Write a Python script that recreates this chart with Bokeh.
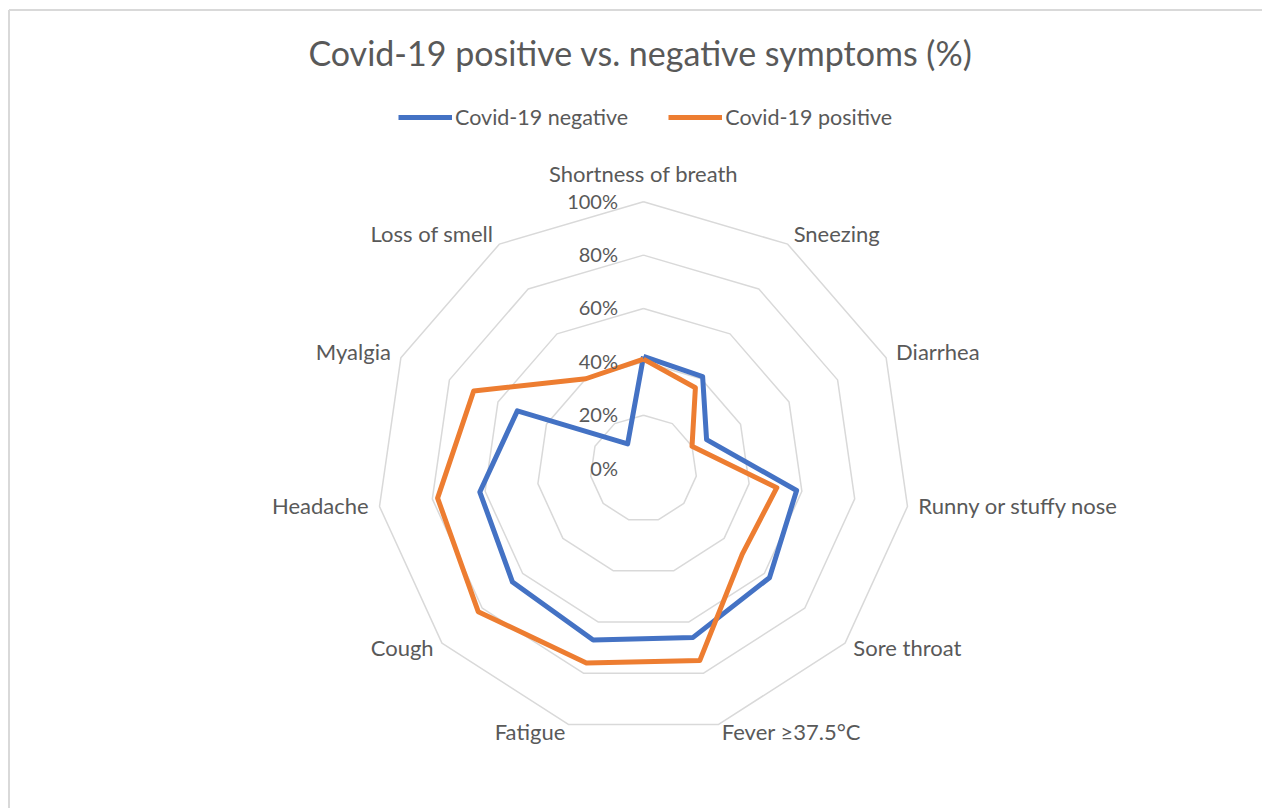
import math
from bokeh.plotting import figure
from bokeh.models import Range1d, ColumnDataSource, Legend, LegendItem
from bokeh.core.properties import value
from bokeh.embed import file_html
from bokeh.resources import INLINE

# ---------------- data ----------------
categories = ["Shortness of breath", "Sneezing", "Diarrhea", "Runny or stuffy nose",
              "Sore throat", "Fever \u226537.5\u00b0C", "Fatigue", "Cough",
              "Headache", "Myalgia", "Loss of smell"]
negative = [42, 41, 26, 58, 62.5, 66, 67, 65, 62, 52, 11]
positive = [41, 36, 20, 50.5, 49, 75, 76, 82, 78, 70, 40]
ring_levels = [20, 40, 60, 80, 100]
tick_levels = [0, 20, 40, 60, 80, 100]
tick_labels = ["0%", "20%", "40%", "60%", "80%", "100%"]
series_names = ["Covid-19 negative", "Covid-19 positive"]
title_text = "Covid-19 positive vs. negative symptoms (%)"

# ---------------- layout ----------------
W, H = 1262, 808
S = 266.7 / 100.0          # pixels per percentage point
CX, CY = 643, 468          # radar centre in figure pixels
FONT = "Lato"
TXT = "#595959"
GRID = "#d9d9d9"

x0, x1 = -CX / S, (W - CX) / S
y0, y1 = -(H - CY) / S, CY / S

p = figure(width=W, height=H, x_range=Range1d(x0, x1), y_range=Range1d(y0, y1),
           x_axis_type=None, y_axis_type=None, output_backend="svg",
           toolbar_location=None, min_border=0)
p.grid.visible = False
p.outline_line_color = None
p.background_fill_color = "white"
p.border_fill_color = "white"

N = len(categories)
theta = [2 * math.pi * i / N for i in range(N)]


def px(v):
    return v / S


# chart-area border (top and left edges visible)
bx = x0 + px(8.5)
by = y1 - px(9.5)
p.line([bx, bx], [y0, by], line_color=GRID, line_width=2)
p.line([bx, x1], [by, by], line_color=GRID, line_width=2)

# rings
ring_xs, ring_ys = [], []
for r in ring_levels:
    ring_xs.append([r * math.sin(t) for t in theta] + [0.0])
    ring_ys.append([r * math.cos(t) for t in theta] + [r])
p.multi_line(ring_xs, ring_ys, line_color=GRID, line_width=1.5)

# series
renderers = []
for vals, col in ((negative, "#4472C4"), (positive, "#ED7D31")):
    xs = [v * math.sin(t) for v, t in zip(vals, theta)]
    ys = [v * math.cos(t) for v, t in zip(vals, theta)]
    xs.append(xs[0]); ys.append(ys[0])
    renderers.append(p.line(xs, ys, line_color=col, line_width=5, line_join="round"))

# value labels
p.text(x=[-px(25.5)] * len(tick_levels), y=[v + px(1) for v in tick_levels], text=tick_labels,
       text_align="right", text_baseline="middle", text_font=value(FONT),
       text_font_size="20px", text_color=TXT)

# category labels
lx, ly, la = [], [], []
off = 11
for t in theta:
    vx, vy = 100 * math.sin(t), 100 * math.cos(t)
    s, c = math.sin(t), math.cos(t)
    if abs(s) < 1e-6:
        lx.append(vx); ly.append(vy + px(28.5)); la.append("center")
    else:
        lx.append(vx + px(off * s)); ly.append(vy + px(off * c * 0.9 + 2))
        la.append("left" if s > 0 else "right")
src = ColumnDataSource(dict(x=lx, y=ly, t=categories, a=la))
p.text(x="x", y="y", text="t", text_align="a", text_baseline="middle", source=src,
       text_font=value(FONT), text_font_size="22px", text_color=TXT)

# title
p.text(x=[px(640 - CX)], y=[px(CY - 52)], text=[title_text], text_align="center",
       text_baseline="middle", text_font=value(FONT), text_font_size="34px", text_color=TXT)

# legend
legend = Legend(items=[LegendItem(label=series_names[0], renderers=[renderers[0]]),
                       LegendItem(label=series_names[1], renderers=[renderers[1]])],
                orientation="horizontal", location=(398, 678), glyph_width=54,
                glyph_height=20, label_standoff=3, spacing=40, padding=0, margin=0,
                border_line_color=None, background_fill_alpha=0,
                label_text_font=FONT, label_text_font_size="21.5px",
                label_text_color=TXT)
p.add_layout(legend)

open("out.html", "w").write(file_html(p, INLINE))
